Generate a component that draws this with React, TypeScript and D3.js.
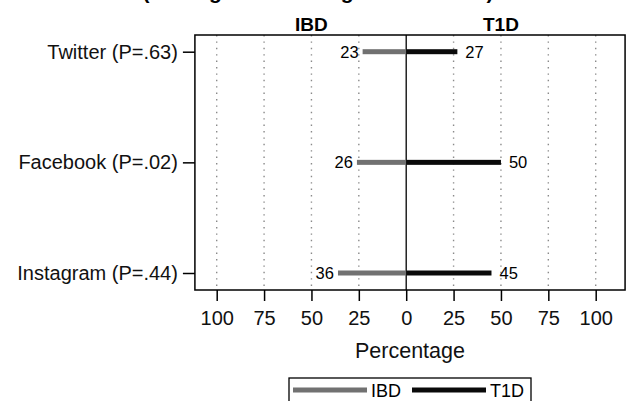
import React, { useRef, useEffect } from 'react';
import * as d3 from 'd3';

const title = '(Among Those Using Social Media)';
const groups = ['IBD', 'T1D'];
const platforms = ['Twitter (P=.63)', 'Facebook (P=.02)', 'Instagram (P=.44)'];
const ibdValues = [23, 26, 36];
const t1dValues = [27, 50, 45];
const xTicks = [-100, -75, -50, -25, 0, 25, 50, 75, 100];
const gridTicks = [-100, -75, -50, -25, 25, 50, 75, 100];

const App = () => {
  const svgRef = useRef<SVGSVGElement>(null);
  const width = 627;
  const height = 401;

  useEffect(() => {
    const svg = d3.select(svgRef.current);
    svg.selectAll('*').remove();
    const font = 'Liberation Sans, Arial, sans-serif';

    const x = d3.scaleLinear().domain([-100, 100]).range([216.7, 595.7]);
    const left = x(-111.5);
    const right = x(115.5);
    const top = 35;
    const bottom = 290;
    const y = d3.scalePoint<string>().domain(platforms).range([51.7, 273]);

    // title, cut off at the top like the original
    svg.append('text')
      .attr('x', 318).attr('y', -1)
      .attr('text-anchor', 'middle')
      .attr('font-family', font).attr('font-weight', 'bold').attr('font-size', 21)
      .text(title);

    // panel headers
    svg.selectAll('.hdr')
      .data(groups)
      .join('text')
      .attr('class', 'hdr')
      .attr('x', (d, i) => x(i === 0 ? -50 : 50))
      .attr('y', 31)
      .attr('text-anchor', 'middle')
      .attr('font-family', font).attr('font-weight', 'bold').attr('font-size', 19)
      .text(d => d);

    // dotted grid
    svg.selectAll('.grid')
      .data(gridTicks)
      .join('line')
      .attr('class', 'grid')
      .attr('x1', d => x(d)).attr('x2', d => x(d))
      .attr('y1', top).attr('y2', bottom)
      .attr('stroke', '#8a8a8a')
      .attr('stroke-width', 1.4)
      .attr('stroke-dasharray', '1.4,5');

    // zero line
    svg.append('line')
      .attr('x1', x(0)).attr('x2', x(0))
      .attr('y1', top).attr('y2', bottom)
      .attr('stroke', '#000').attr('stroke-width', 1.3);

    // bars
    const barH = 5;
    svg.selectAll('.ibd')
      .data(ibdValues)
      .join('rect')
      .attr('class', 'ibd')
      .attr('x', d => x(-d))
      .attr('width', d => x(0) - x(-d))
      .attr('y', (d, i) => y(platforms[i])! - barH / 2)
      .attr('height', barH)
      .attr('fill', '#717171');

    svg.selectAll('.t1d')
      .data(t1dValues)
      .join('rect')
      .attr('class', 't1d')
      .attr('x', x(0))
      .attr('width', d => x(d) - x(0))
      .attr('y', (d, i) => y(platforms[i])! - barH / 2)
      .attr('height', barH)
      .attr('fill', '#0a0a0a');

    // value labels
    svg.selectAll('.ibdLbl')
      .data(ibdValues)
      .join('text')
      .attr('class', 'ibdLbl')
      .attr('x', d => x(-d) - 4)
      .attr('y', (d, i) => y(platforms[i])! + 6)
      .attr('text-anchor', 'end')
      .attr('font-family', font).attr('font-size', 16.5)
      .text(d => d);

    svg.selectAll('.t1dLbl')
      .data(t1dValues)
      .join('text')
      .attr('class', 't1dLbl')
      .attr('x', d => x(d) + 8)
      .attr('y', (d, i) => y(platforms[i])! + 6)
      .attr('text-anchor', 'start')
      .attr('font-family', font).attr('font-size', 16.5)
      .text(d => d);

    // frame
    svg.append('rect')
      .attr('x', left).attr('y', top)
      .attr('width', right - left).attr('height', bottom - top)
      .attr('fill', 'none').attr('stroke', '#000').attr('stroke-width', 1.5);

    // axes
    const xAxis = d3.axisBottom(x)
      .tickValues(xTicks)
      .tickFormat(d => String(Math.abs(+d)))
      .tickSize(11)
      .tickPadding(10);
    const gx = svg.append('g')
      .attr('transform', `translate(0,${bottom})`)
      .call(xAxis);
    gx.select('.domain').remove();
    gx.selectAll('line').attr('stroke', '#000').attr('stroke-width', 1.5);
    gx.selectAll('text').attr('font-family', font).attr('font-size', 20).attr('fill', '#111');

    const yAxis = d3.axisLeft(y).tickSize(12).tickPadding(5);
    const gy = svg.append('g')
      .attr('transform', `translate(${left},0)`)
      .call(yAxis);
    gy.select('.domain').remove();
    gy.selectAll('line').attr('stroke', '#000').attr('stroke-width', 1.5);
    gy.selectAll('text').attr('font-family', font).attr('font-size', 20).attr('fill', '#111');

    svg.append('text')
      .attr('x', (left + right) / 2).attr('y', 358)
      .attr('text-anchor', 'middle')
      .attr('font-family', font).attr('font-size', 21.5)
      .attr('fill', '#111')
      .text('Percentage');

    // legend
    const legend = svg.append('g');
    legend.append('rect')
      .attr('x', 289).attr('y', 378)
      .attr('width', 242).attr('height', 40)
      .attr('fill', 'none').attr('stroke', '#000').attr('stroke-width', 1.3);
    const legendColors = ['#717171', '#0a0a0a'];
    const legendX = [293, 412];
    legend.selectAll('.lgLine')
      .data(groups)
      .join('line')
      .attr('class', 'lgLine')
      .attr('x1', (d, i) => legendX[i]).attr('x2', (d, i) => legendX[i] + 74)
      .attr('y1', 390).attr('y2', 390)
      .attr('stroke', (d, i) => legendColors[i]).attr('stroke-width', 5);
    legend.selectAll('.lgText')
      .data(groups)
      .join('text')
      .attr('class', 'lgText')
      .attr('x', (d, i) => legendX[i] + 78)
      .attr('y', 397)
      .attr('font-family', font).attr('font-size', 18)
      .text(d => d);
  }, []);

  return (
    <svg
      ref={svgRef}
      width={width}
      height={height}
      style={{ position: 'absolute', left: 0, top: 0, background: '#fff' }}
    />
  );
};

export default App;
